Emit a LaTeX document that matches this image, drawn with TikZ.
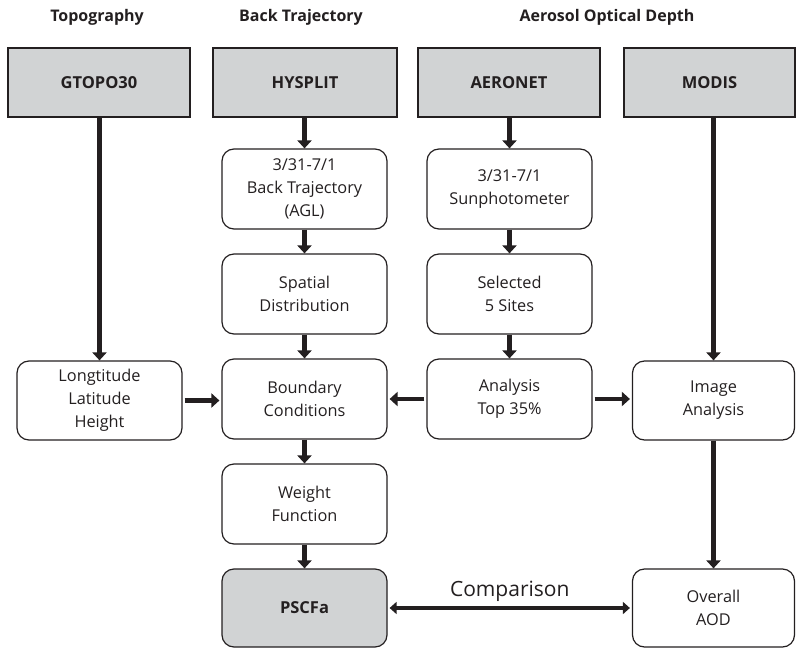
\documentclass[tikz,border=0pt]{standalone}
\usepackage{fontspec}
\setmainfont{Open Sans}
\usetikzlibrary{arrows.meta}
\definecolor{ink}{HTML}{231F20}
\definecolor{hdr}{HTML}{D1D3D4}
\tikzset{
  ttl/.style={font=\fontsize{16}{18}\selectfont\bfseries, text=ink},
  hbox/.style={draw=ink, line width=1.3pt, fill=hdr, minimum height=69pt, inner sep=0pt, font=\fontsize{16.5}{20}\selectfont\bfseries, text=ink},
  rbox/.style={draw=ink, line width=1.2pt, rounded corners=12pt, minimum width=165pt, minimum height=80pt, inner sep=0pt, align=center, font=\fontsize{16.3}{23}\selectfont, text=ink},
  arr/.style={draw=ink, line width=4.5pt, -{Triangle[width=14pt,length=8pt]}},
  darr/.style={draw=ink, line width=4pt, {Triangle[width=12pt,length=7pt]}-{Triangle[width=12pt,length=7pt]}}
}
\begin{document}
\begin{tikzpicture}[x=1pt,y=-1pt]
\useasboundingbox (0,0) rectangle (796,648);
% titles
\node[ttl] (t1) at (97,17) {Topography};
\node[ttl] (t2) at (301,17) {Back Trajectory};
\node[ttl] (t3) at (607,17) {Aerosol Optical Depth};
% header boxes
\node[hbox, minimum width=182pt] (gtopo) at (99,82.5) {GTOPO30};
\node[hbox, minimum width=184pt] (hysplit) at (305,82.5) {HYSPLIT};
\node[hbox, minimum width=182pt] (aeronet) at (509,82.5) {AERONET};
\node[hbox, minimum width=171pt] (modis) at (709.5,82.5) {MODIS};
% column 2
\node[rbox] (bt) at (304.5,189) {3/31-7/1\\Back Trajectory\\(AGL)};
\node[rbox] (spatial) at (304.5,294) {Spatial\\Distribution};
\node[rbox] (boundary) at (304.5,399) {Boundary\\Conditions};
\node[rbox] (weight) at (304.5,504) {Weight\\Function};
\node[rbox, fill=hdr, minimum height=78pt, font=\fontsize{16.5}{20}\selectfont\bfseries] (pscfa) at (304.5,608) {PSCFa};
% column 3
\node[rbox] (sun) at (509.5,189) {3/31-7/1\\Sunphotometer};
\node[rbox] (selected) at (509.5,294) {Selected\\5 Sites};
\node[rbox] (analysis) at (509.5,399) {Analysis\\Top 35\%};
% column 1
\node[rbox, minimum height=79pt] (lonlat) at (99.5,400.5) {Longtitude\\Latitude\\Height};
% column 4
\node[rbox, minimum width=162pt, minimum height=79pt] (image) at (713.5,400.5) {Image\\Analysis};
\node[rbox, minimum width=162pt, minimum height=78pt] (overall) at (713.5,608) {Overall\\AOD};
% vertical arrows
\draw[arr] (lonlat.north |- gtopo.south) -- (lonlat.north);
\draw[arr] (bt.north |- hysplit.south) -- (bt.north);
\draw[arr] (bt) -- (spatial);
\draw[arr] (spatial) -- (boundary);
\draw[arr] (boundary) -- (weight);
\draw[arr] (weight) -- (pscfa);
\draw[arr] (sun.north |- aeronet.south) -- (sun.north);
\draw[arr] (sun) -- (selected);
\draw[arr] (selected) -- (analysis);
\draw[arr] (image.north |- modis.south) -- (image.north);
\draw[arr] (image) -- (overall);
% horizontal arrows
\draw[arr, shorten <=2pt, shorten >=2pt] (lonlat.east) -- (lonlat.east -| boundary.west);
\draw[arr, shorten <=2pt, shorten >=2pt] (analysis.west) -- (boundary.east);
\draw[arr, shorten <=2pt, shorten >=2pt] (analysis.east) -- (analysis.east -| image.west);
\draw[darr, shorten <=2pt, shorten >=2pt] (pscfa.east) -- node[above=1pt, font=\fontsize{21}{24}\selectfont, text=ink] (cmp) {Comparison} (overall.west);
\end{tikzpicture}
\end{document}
